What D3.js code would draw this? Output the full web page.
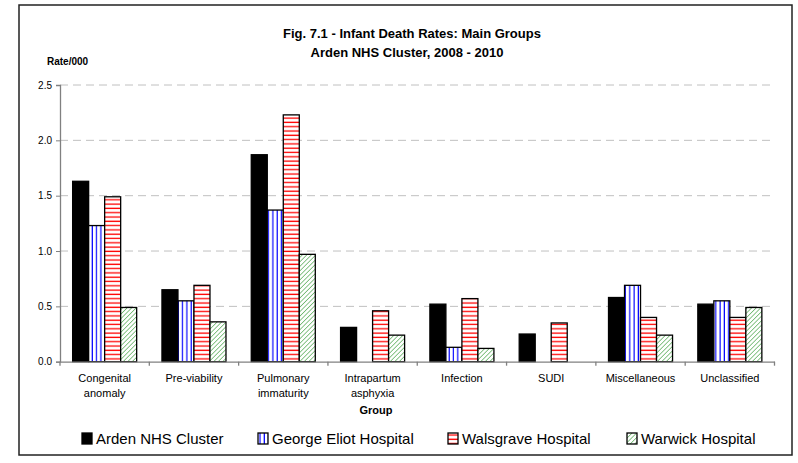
<!DOCTYPE html>
<html>
<head>
<meta charset="utf-8">
<script src="https://cdn.jsdelivr.net/npm/d3@7"></script>
<style>
  body { margin: 0; background: #fff; }
  svg { font-family: "Liberation Sans", Arial, sans-serif; }
</style>
</head>
<body>
<svg id="chart" width="798" height="463"></svg>
<script>
// data
var groups = [
    ["Congenital", "anomaly"],
    ["Pre-viability"],
    ["Pulmonary", "immaturity"],
    ["Intrapartum", "asphyxia"],
    ["Infection"],
    ["SUDI"],
    ["Miscellaneous"],
    ["Unclassified"]
]
var seriesNames = ["Arden NHS Cluster", "George Eliot Hospital", "Walsgrave Hospital", "Warwick Hospital"]
var arden    = [1.63, 0.65, 1.87, 0.31, 0.52, 0.25, 0.58, 0.52]
var george   = [1.23, 0.55, 1.37, 0,    0.13, 0,    0.69, 0.55]
var walsgrave = [1.49, 0.69, 2.23, 0.46, 0.57, 0.35, 0.40, 0.40]
var warwick  = [0.49, 0.36, 0.97, 0.24, 0.12, 0,    0.24, 0.49]
var yTicks = [0, 0.5, 1.0, 1.5, 2.0, 2.5]

var allSeries = [arden, george, walsgrave, warwick]
var fills = ["#000", "url(#pat-blue)", "url(#pat-red)", "url(#pat-green)"]

var svg = d3.select("#chart")

// patterns
var defs = svg.append("defs")
var pb = defs.append("pattern").attr("id", "pat-blue")
    .attr("patternUnits", "userSpaceOnUse").attr("width", 4.3).attr("height", 10)
pb.append("rect").attr("width", 4.3).attr("height", 10).attr("fill", "#fff")
pb.append("line").attr("x1", 2).attr("x2", 2).attr("y1", 0).attr("y2", 10)
    .attr("stroke", "#0000ff").attr("stroke-width", 1.2)

var pr = defs.append("pattern").attr("id", "pat-red")
    .attr("patternUnits", "userSpaceOnUse").attr("width", 10).attr("height", 4.3)
pr.append("rect").attr("width", 10).attr("height", 4.3).attr("fill", "#fff")
pr.append("line").attr("x1", 0).attr("x2", 10).attr("y1", 2).attr("y2", 2)
    .attr("stroke", "#ff0000").attr("stroke-width", 1.3)

var pg = defs.append("pattern").attr("id", "pat-green")
    .attr("patternUnits", "userSpaceOnUse").attr("width", 3.2).attr("height", 3.2)
    .attr("patternTransform", "rotate(45)")
pg.append("rect").attr("width", 3.2).attr("height", 3.2).attr("fill", "#fff")
pg.append("line").attr("x1", 0).attr("x2", 0).attr("y1", 0).attr("y2", 3.2)
    .attr("stroke", "#3f9f3f").attr("stroke-width", 1.2)

// outer frame
svg.append("rect")
    .attr("x", 19).attr("y", 5).attr("width", 773).attr("height", 450)
    .attr("fill", "#fff").attr("stroke", "#222").attr("stroke-width", 1.5)

var plot = {left: 60, right: 774.5, top: 85, bottom: 361.7}

var x = d3.scaleBand()
    .domain(d3.range(groups.length))
    .range([plot.left, plot.right])
    .padding(0)

var xInner = d3.scaleBand()
    .domain(d3.range(seriesNames.length))
    .range([0, x.bandwidth()])
    .paddingInner(0)
    .paddingOuter(0.79)

var y = d3.scaleLinear()
    .domain([0, 2.5])
    .range([plot.bottom, plot.top])

// gridlines
svg.append("g")
    .selectAll("line")
    .data(yTicks.filter(function (d) { return d > 0 }))
    .enter().append("line")
    .attr("x1", plot.left).attr("x2", plot.right)
    .attr("y1", function (d) { return y(d) }).attr("y2", function (d) { return y(d) })
    .attr("stroke", "#c0c0c0").attr("stroke-width", 1)
    .attr("stroke-dasharray", "8,5")

// bars (zero values are not drawn)
allSeries.forEach(function (vals, s) {
    var pts = vals.map(function (v, i) { return {i: i, v: v} })
        .filter(function (d) { return d.v > 0 })
    svg.append("g")
        .selectAll("rect")
        .data(pts)
        .enter().append("rect")
        .attr("x", function (d) { return x(d.i) + xInner(s) })
        .attr("y", function (d) { return y(d.v) })
        .attr("width", xInner.bandwidth())
        .attr("height", function (d) { return y(0) - y(d.v) })
        .attr("fill", fills[s])
        .attr("stroke", "#000").attr("stroke-width", 1.3)
})

// y axis
var yAxis = svg.append("g")
    .attr("transform", "translate(" + plot.left + ",0)")
    .call(d3.axisLeft(y).tickValues(yTicks).tickFormat(d3.format(".1f")).tickSize(4).tickPadding(4))
yAxis.select(".domain").attr("stroke", "#808080").attr("stroke-width", 1.3)
yAxis.selectAll(".tick line").attr("stroke", "#808080")
yAxis.selectAll("text").attr("font-size", 10).attr("fill", "#000")
    .attr("font-family", "Liberation Sans, Arial, sans-serif")

// x axis
var xAxis = svg.append("g")
    .attr("transform", "translate(0," + plot.bottom + ")")
    .call(d3.axisBottom(x).tickSize(0).tickFormat(""))
xAxis.select(".domain").attr("stroke", "#808080").attr("stroke-width", 1.3)
xAxis.selectAll(".tick").remove()
xAxis.selectAll(".sep")
    .data(d3.range(groups.length + 1))
    .enter().append("line")
    .attr("class", "sep")
    .attr("x1", function (i) { return plot.left + i * x.step() })
    .attr("x2", function (i) { return plot.left + i * x.step() })
    .attr("y1", 0).attr("y2", 4)
    .attr("stroke", "#808080").attr("stroke-width", 1.3)

// category labels
var lab = svg.append("g")
    .selectAll("text")
    .data(groups)
    .enter().append("text")
    .attr("text-anchor", "middle")
    .attr("font-size", 11)
    .attr("fill", "#000")
lab.each(function (lines, i) {
    var t = d3.select(this)
    lines.forEach(function (ln, k) {
        t.append("tspan")
            .attr("x", x(i) + x.bandwidth() / 2)
            .attr("y", 382 + k * 14.5)
            .text(ln)
    })
})

// titles
svg.append("text").attr("x", 412).attr("y", 38)
    .attr("text-anchor", "middle").attr("font-size", 13).attr("font-weight", "bold")
    .text("Fig. 7.1 - Infant Death Rates: Main Groups")
svg.append("text").attr("x", 407).attr("y", 57)
    .attr("text-anchor", "middle").attr("font-size", 13).attr("font-weight", "bold")
    .text("Arden NHS Cluster, 2008 - 2010")
svg.append("text").attr("x", 47).attr("y", 65)
    .attr("font-size", 10).attr("font-weight", "bold")
    .text("Rate/000")
svg.append("text").attr("x", 376).attr("y", 414)
    .attr("text-anchor", "middle").attr("font-size", 11).attr("font-weight", "bold")
    .text("Group")

// legend
var legendX = [82, 258, 448, 627]
var leg = svg.append("g")
    .selectAll("g")
    .data(seriesNames)
    .enter().append("g")
    .attr("transform", function (d, i) { return "translate(" + legendX[i] + ",433)" })
leg.append("rect")
    .attr("width", 10).attr("height", 11)
    .attr("fill", function (d, i) { return fills[i] })
    .attr("stroke", "#000").attr("stroke-width", 1.3)
leg.append("text")
    .attr("x", 14).attr("y", 11)
    .attr("font-size", 15)
    .text(function (d) { return d })
</script>
</body>
</html>
